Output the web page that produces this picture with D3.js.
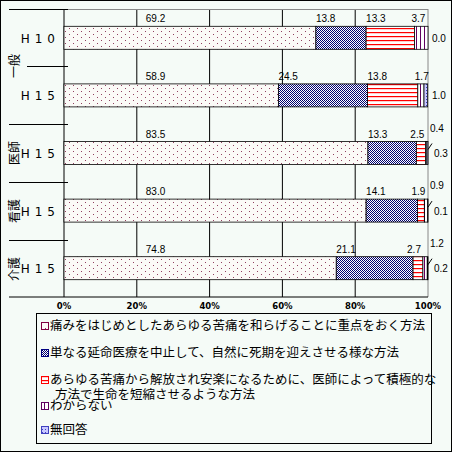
<!DOCTYPE html><html><head><meta charset="utf-8"><script src="https://cdn.jsdelivr.net/npm/d3@7"></script>
<style>body{margin:0;background:#fff}</style></head><body><svg id="c" width="452" height="452"></svg><script>
const groups=["一般","医師","看護","介護"];
const rowLabels=["H10","H15","H15","H15","H15"];
const seriesNames=["痛みをはじめとしたあらゆる苦痛を和らげることに重点をおく方法","単なる延命医療を中止して、自然に死期を迎えさせる様な方法","あらゆる苦痛から解放され安楽になるために、医師によって積極的な|方法で生命を短縮させるような方法","わからない","無回答"];
const values=[[69.2,13.8,13.3,3.7,0.0],[58.9,24.5,13.8,1.7,1.0],[83.5,13.3,2.5,0.4,0.3],[83.0,14.1,1.9,0.9,0.1],[74.8,21.1,2.7,1.2,0.2]];
const ticks=[0,20,40,60,80,100];
const svg=d3.select("#c");
const defs=svg.append("defs");
function pat(id,w,h,bg,draw){const p=defs.append("pattern").attr("id",id).attr("patternUnits","userSpaceOnUse").attr("width",w).attr("height",h);p.append("rect").attr("width",w).attr("height",h).attr("fill",bg);draw(p);}
pat("p0",8,6,"#fbfaf7",p=>{p.append("rect").attr("x",1).attr("y",1).attr("width",1).attr("height",1).attr("fill","#904060");p.append("rect").attr("x",5).attr("y",4).attr("width",1).attr("height",1).attr("fill","#904060");});
pat("p1",2,2,"#ffffff",p=>{p.append("rect").attr("width",1).attr("height",1).attr("fill","#000070");p.append("rect").attr("x",1).attr("y",1).attr("width",1).attr("height",1).attr("fill","#000070");});
pat("p2",4,4,"#ffffff",p=>{p.append("rect").attr("y",0).attr("width",4).attr("height",1.2).attr("fill","#ff0000");});
pat("p3",4,4,"#ffffff",p=>{p.append("rect").attr("x",0).attr("width",1).attr("height",4).attr("fill","#600060");});
pat("p4",3,3,"#c8c8ff",p=>{p.append("rect").attr("width",1).attr("height",1).attr("fill","#4040c0");});
svg.append("rect").attr("x",0.5).attr("y",0.5).attr("width",451).attr("height",451).attr("fill","#f5fbf7").attr("stroke","#000");
const x=d3.scaleLinear().domain([0,100]).range([64,428]);
const y=d3.scaleBand().domain(d3.range(5)).range([9,297]).paddingInner(0);
const bh=23;
const g=svg.append("g");
g.selectAll(".gl").data(ticks).join("line").attr("x1",d=>x(d)).attr("x2",d=>x(d)).attr("y1",9).attr("y2",297).attr("stroke",(d,i)=>i==5?"#888":"#000");
g.append("line").attr("x1",9).attr("x2",428).attr("y1",297).attr("y2",297).attr("stroke","#000");
g.append("line").attr("x1",68).attr("x2",428).attr("y1",9.5).attr("y2",9.5).attr("stroke","#888");
[[9,9],[27,66],[9,124],[9,182],[9,240]].forEach(([x1,yy])=>g.append("line").attr("x1",x1).attr("x2",68).attr("y1",yy+0.5).attr("y2",yy+0.5).attr("stroke","#000"));
values.forEach((vals,r)=>{
  const top=y(r)+y.bandwidth()/2-bh/2;
  let cum=0;
  const st=vals.map(v=>{const s=cum;cum+=v;return [s,cum];});
  g.selectAll(null).data(st).join("rect").attr("x",d=>x(d[0])).attr("width",d=>x(d[1])-x(d[0])).attr("y",top).attr("height",bh).attr("fill",(d,i)=>`url(#p${i})`).attr("stroke","#000").attr("stroke-width",0.8);
  g.append("text").attr("x",60).attr("y",top+bh/2+5).attr("text-anchor","end").attr("font-size",12).attr("font-family","DejaVu Sans").attr("letter-spacing",5).text(rowLabels[r]);
  vals.forEach((v,i)=>{
    const t=g.append("text").attr("font-size",10).attr("font-family","Liberation Sans").attr("fill","#000");
    if(i==0) t.attr("x",x(20)+9).attr("y",top-4).text(v.toFixed(1));
    else if(i<3||(i==3&&r<2)) t.attr("x",x(st[i][0])+(i>=2&&r>=2?-6:0)+(i==3?-3:0)).attr("y",top-4).text(v.toFixed(1));
    else if(i==3) t.attr("x",430).attr("y",top-10).text(v.toFixed(1));
    else {t.attr("x",r<2?432:434).attr("y",top+bh/2+4).text(v.toFixed(1));
      if(r>=2) g.append("line").attr("x1",428).attr("y1",top+8).attr("x2",432).attr("y2",top+2).attr("stroke","#000");}
  });
});
const gc=[66,124+29,182+29,240+29];
gc.forEach((c,i)=>{svg.append("text").attr("transform",`translate(19,${c}) rotate(-90)`).attr("font-size",12).attr("font-family","Noto Sans CJK JP").attr("text-anchor","middle").text(groups[i]);});
svg.selectAll(".tk").data(ticks).join("text").attr("x",d=>x(d)).attr("y",309).attr("text-anchor","middle").attr("font-size",8.5).attr("font-weight","bold").attr("font-family","DejaVu Sans").text(d=>d+"%");
svg.append("rect").attr("x",36.5).attr("y",313.5).attr("width",395).attr("height",130).attr("fill","none").attr("stroke","#000");
const ly=[330,357,384,410,434];
seriesNames.forEach((n,i)=>{
  svg.append("rect").attr("x",41.5).attr("y",ly[i]-7.5).attr("width",7).attr("height",7).attr("fill",`url(#p${i})`).attr("stroke",["#800040","#000080","#ff0000","#600060","#4040c0"][i]);
  const t=svg.append("text").attr("font-size",12.5).attr("font-family","Noto Sans CJK JP");
  n.split("|").forEach((s,k)=>t.append("tspan").attr("x",k?55:50).attr("y",ly[i]+k*15).text(s));
});
</script></body></html>
